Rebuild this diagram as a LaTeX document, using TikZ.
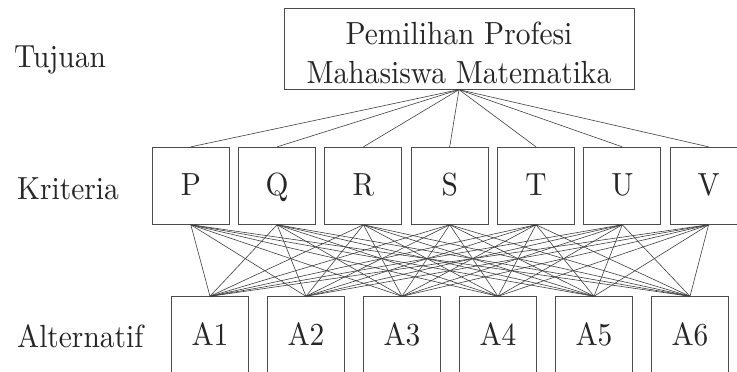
\documentclass[tikz,border=0pt]{standalone}
\usepackage{fontspec}
\setmainfont{lmroman10-regular}[Extension=.otf, FakeStretch=0.92]
\begin{document}
\begin{tikzpicture}[x=1pt,y=-1pt,
  every node/.style={font=\fontsize{32}{32}\selectfont, text=black!85},
  boxk/.style={draw=black!70, line width=0.9pt, minimum width=77pt, minimum height=77pt, inner sep=0pt},
  boxa/.style={draw=black!70, line width=0.9pt, minimum width=76.6pt, minimum height=100pt, inner sep=0pt},
  boxg/.style={draw=black!70, line width=0.9pt, minimum width=350pt, minimum height=81pt, inner sep=0pt},
  conn/.style={draw=black!75, line width=0.6pt},
  lbl/.style={anchor=base west, inner sep=0pt}]
\useasboundingbox (0,0) rectangle (737,372);
\clip (0,0) rectangle (737,372);
\fill[white] (0,0) rectangle (737,372);
% goal
\node[boxg] (goal) at (459,48.7) {};
\node[anchor=base, inner sep=0pt] (g1) at (459,45) {Pemilihan Profesi};
\node[anchor=base, inner sep=0pt] (g2) at (459,83) {Mahasiswa Matematika};
% labels
\node[lbl] (tujuan) at (14,67) {Tujuan};
\node[lbl] (kriteria) at (17,199) {Kriteria};
\node[lbl] (alternatif) at (17,347) {Alternatif};
% criteria
\foreach \n [count=\i from 0] in {P,Q,R,S,T,U,V}{
  \node[boxk] (\n) at (190.8+86.3*\i,185.8) {};
  \node[anchor=base, inner sep=0pt] (t\n) at (190.8+86.3*\i,195) {\n};
}
% alternatives
\foreach \i in {1,...,6}{
  \node[boxa, anchor=north] (A\i) at (210+96*\i-96,296.3) {};
  \node[anchor=base, inner sep=0pt] (tA\i) at (210+96*\i-96,345) {A\i};
}
% connectors
\foreach \n in {P,Q,R,S,T,U,V}{
  \draw[conn] (goal.south) -- (\n.north);
  \foreach \i in {1,...,6}{
    \draw[conn] (\n.south) -- (A\i.north);
  }
}
\end{tikzpicture}
\end{document}
